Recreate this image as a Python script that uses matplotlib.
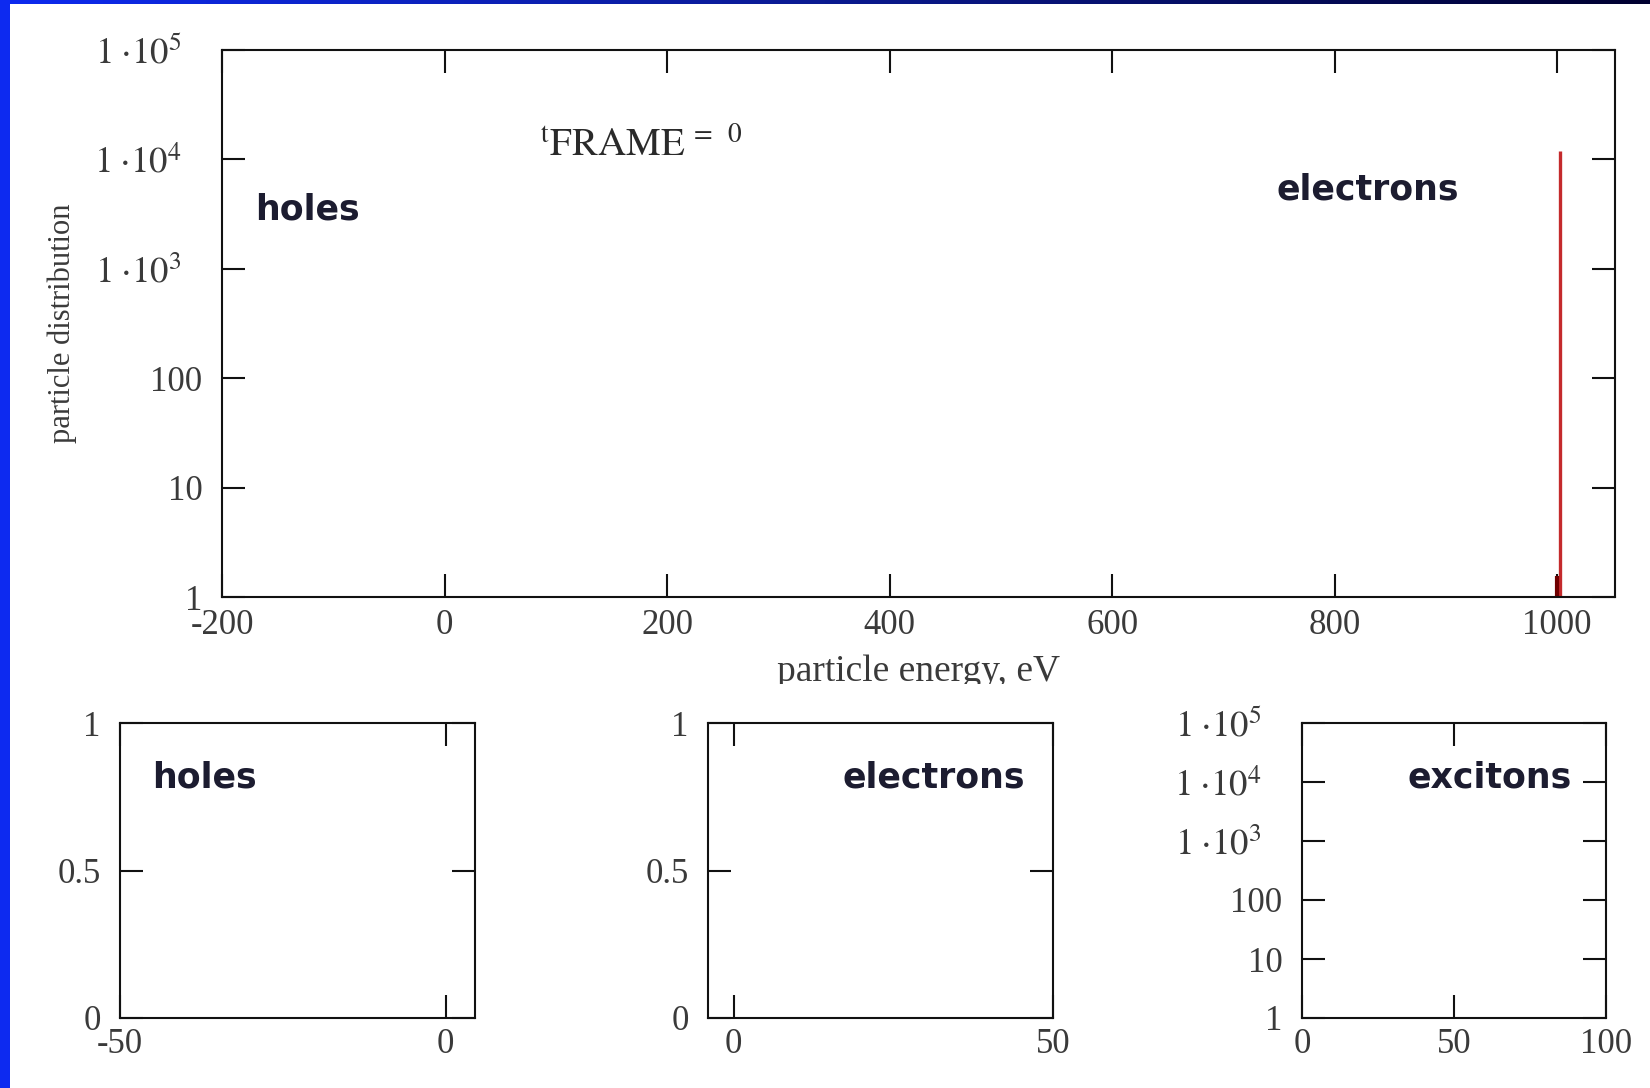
import numpy as np
import matplotlib
matplotlib.use("Agg")
from matplotlib import pyplot as plt
from matplotlib.patches import Rectangle
from matplotlib.colors import LinearSegmentedColormap
from matplotlib.ticker import NullLocator
from matplotlib.transforms import Bbox, TransformedBbox, ScaledTranslation

plt.rcParams["font.family"] = ["Liberation Serif", "DejaVu Serif"]
plt.rcParams["mathtext.fontset"] = "stix"

# electron distribution at t_FRAME = 0 (single line near 1 keV)
e_energy = [1003.0]
e_count = [1.2e4]
e_tail_energy = [1000.0]
e_tail_count = [1.56]

main_xticks = [-200, 0, 200, 400, 600, 800, 1000]
log_ticks = [1, 10, 100, 1e3, 1e4, 1e5]
log_labels = ["1", "10", "100",
              r"$1\;{\cdot}10^{3}$", r"$1\;{\cdot}10^{4}$", r"$1\;{\cdot}10^{5}$"]
lin_ticks = [0, 0.5, 1]
lin_labels = ["0", "0.5", "1"]
holes_xticks = [-50, 0]
elec_xticks = [0, 50]
exc_xticks = [0, 50, 100]

W, H = 1650, 1088
INK = "#111111"
LBL = "#3a3a3a"
TXT = "#1c1c30"
TICK_FS = 25
BOLD = dict(family="DejaVu Sans", fontweight="bold", fontsize=25, color=TXT)


def px_axes(fig, l, t, r, b):
    return fig.add_axes([l / W, 1 - b / H, (r - l) / W, (b - t) / H])


def style(ax, xpad=7, ypad=14):
    for s in ax.spines.values():
        s.set_linewidth(1.5)
        s.set_color(INK)
    ax.tick_params(which="major", direction="in", length=16.5, width=1.5,
                   color=INK, top=True, right=True, labelsize=TICK_FS,
                   labelcolor=LBL)
    ax.tick_params(axis="x", pad=xpad)
    ax.tick_params(axis="y", pad=ypad)
    ax.xaxis.set_minor_locator(NullLocator())
    ax.yaxis.set_minor_locator(NullLocator())


def shift_power_labels(ax, fig, dx=-15):
    # the 1·10^n labels sit further from the spine than the plain ones
    off = ScaledTranslation(dx / 72, 0, fig.dpi_scale_trans)
    for lab in ax.get_yticklabels():
        if "cdot" in lab.get_text():
            lab.set_transform(lab.get_transform() + off)
            lab.set_fontsize(26.5)


fig = plt.figure(figsize=(W / 100, H / 100), dpi=100)
fig.patch.set_facecolor("white")

# frame strips along the left and top edges
fig.patches.append(Rectangle((0, 0), 10 / W, 1, transform=fig.transFigure,
                             facecolor="#0d2af0", edgecolor="none", zorder=5))
strip = fig.add_axes([0, 1 - 4 / H, 1, 4 / H])
strip.imshow(np.linspace(0, 1, 256)[None, :], aspect="auto",
             cmap=LinearSegmentedColormap.from_list("edge", ["#0d2af0", "#0a1a90", "#000030"]))
strip.set_axis_off()

# main panel
ax = px_axes(fig, 222, 50, 1615, 597)
ax.set_yscale("log")
ax.set_xlim(-200, 1052)
ax.set_ylim(1, 1e5)
ax.vlines(e_energy, 1, e_count, color="#c42a2c", lw=2.4)
ax.vlines(e_tail_energy, 1, e_tail_count, color="#700000", lw=3)
ax.set_xticks(main_xticks, [str(v) for v in main_xticks])
ax.set_yticks(log_ticks, log_labels)
style(ax, xpad=9)
shift_power_labels(ax, fig)
ax.set_ylabel("particle distribution", fontsize=22, color=LBL)
ax.yaxis.set_label_coords(-0.104, 0.5)
ax.set_xlabel("particle energy, eV", fontsize=27, color=LBL)
ax.xaxis.set_label_coords(0.5, -0.106)
ax.xaxis.label.set_clip_box(TransformedBbox(Bbox([[0, 1 - 684 / H], [1, 1]]), fig.transFigure))
ax.text(0.0237, 0.691, "holes", transform=ax.transAxes, va="baseline", **BOLD)
ax.text(0.7567, 0.7276, "electrons", transform=ax.transAxes, va="baseline", **BOLD)
ax.text(0.228, 0.806, r"${}^{\mathrm{t}}\mathrm{FRAME}^{\;=\;\;0}$", transform=ax.transAxes,
        va="baseline", fontsize=28, color="#2a2a2a")

# holes, low energy window
ax1 = px_axes(fig, 120, 723, 475, 1018)
ax1.set_xlim(-50, 4.5)
ax1.set_ylim(0, 1)
ax1.set_xticks(holes_xticks, ["-50", "0"])
ax1.set_yticks(lin_ticks, lin_labels)
style(ax1)
ax1.text(0.09, 0.78, "holes", transform=ax1.transAxes, va="baseline", **BOLD)

# electrons, low energy window
ax2 = px_axes(fig, 708, 723, 1053, 1018)
ax2.set_xlim(-4, 50)
ax2.set_ylim(0, 1)
ax2.set_xticks(elec_xticks, [str(v) for v in elec_xticks])
ax2.set_yticks(lin_ticks, lin_labels)
style(ax2)
ax2.text(0.919, 0.78, "electrons", transform=ax2.transAxes, va="baseline",
         ha="right", **BOLD)

# excitons
ax3 = px_axes(fig, 1302, 723, 1606, 1018)
ax3.set_yscale("log")
ax3.set_xlim(0, 100)
ax3.set_ylim(1, 1e5)
ax3.set_xticks(exc_xticks, [str(v) for v in exc_xticks])
ax3.set_yticks(log_ticks, log_labels)
style(ax3)
shift_power_labels(ax3, fig)
ax3.text(0.888, 0.78, "excitons", transform=ax3.transAxes, va="baseline",
         ha="right", **BOLD)

fig.savefig("out.png", dpi=100)
